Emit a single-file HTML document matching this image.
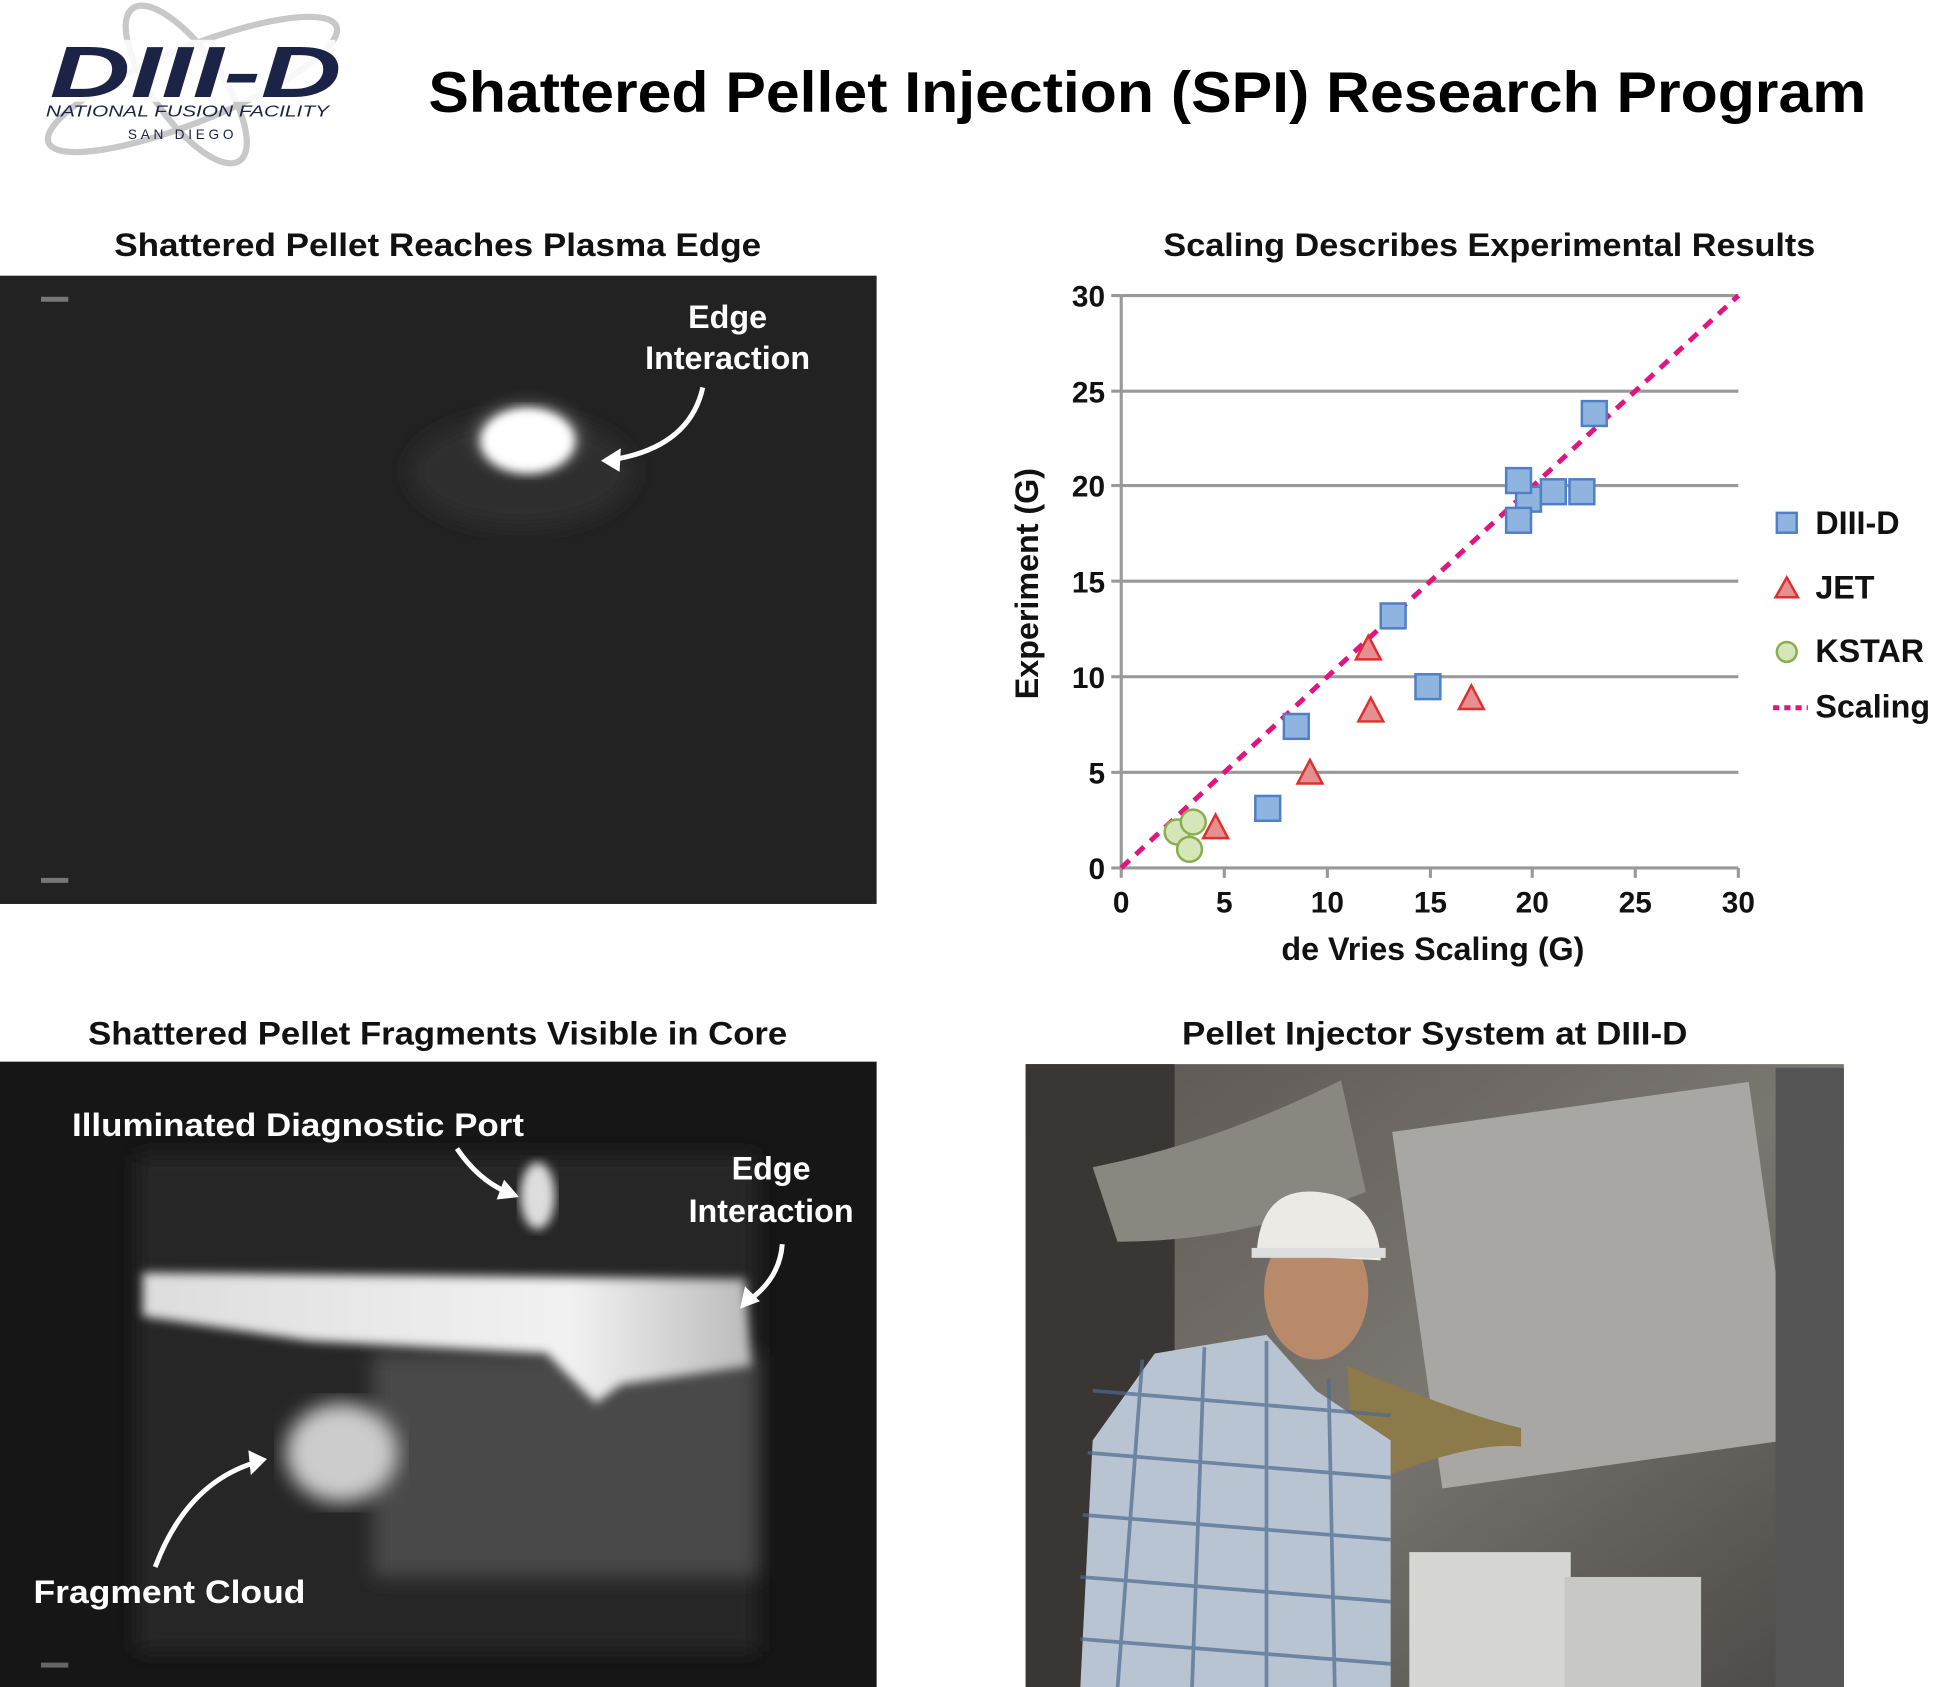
<!DOCTYPE html>
<html><head><meta charset="utf-8"><style>
html,body{margin:0;padding:0;background:#fff;}
svg{display:block;}
text{font-family:"Liberation Sans",sans-serif;font-weight:bold;}
</style></head><body>
<svg width="1937" height="1687" viewBox="0 0 1560 1358.6" xmlns="http://www.w3.org/2000/svg">
<defs>
<radialGradient id="glow1" cx="50%" cy="50%" r="50%">
<stop offset="0" stop-color="#fff"/><stop offset="0.35" stop-color="#f4f4f4"/><stop offset="0.6" stop-color="#777" stop-opacity="0.6"/><stop offset="1" stop-color="#222" stop-opacity="0"/>
</radialGradient>
<linearGradient id="band" x1="0" y1="0" x2="1" y2="0">
<stop offset="0" stop-color="#ddd"/><stop offset="0.7" stop-color="#f2f2f2"/><stop offset="1" stop-color="#bbb"/>
</linearGradient>
<filter id="blur"><feGaussianBlur stdDeviation="8"/></filter>
<filter id="blur2"><feGaussianBlur stdDeviation="4"/></filter>
<linearGradient id="photo" x1="0" y1="0" x2="1" y2="1">
<stop offset="0" stop-color="#5a5550"/><stop offset="0.5" stop-color="#7a7670"/><stop offset="1" stop-color="#4a4845"/>
</linearGradient>
</defs>

<!-- Logo -->
<ellipse cx="155" cy="68" rx="125" ry="30" fill="none" stroke="#c8c8c8" stroke-width="5" transform="rotate(-22 155 68)"/>
<ellipse cx="150" cy="68" rx="75" ry="28" fill="none" stroke="#c8c8c8" stroke-width="5" transform="rotate(55 150 68)"/>
<rect x="45" y="32" width="225" height="50" fill="#fff" opacity="0.85"/>
<text x="40" y="78" font-size="58" font-style="italic" fill="#1b2447" textLength="235" lengthAdjust="spacingAndGlyphs">DIII-D</text>
<text x="37" y="94" font-size="13" font-style="italic" fill="#1b2447" textLength="228" lengthAdjust="spacingAndGlyphs" style="font-weight:normal">NATIONAL FUSION FACILITY</text>
<text x="103" y="112" font-size="11" fill="#1b2447" letter-spacing="3" style="font-weight:normal">SAN DIEGO</text>

<!-- Title -->
<text x="345" y="90" font-size="46" fill="#000" textLength="1158" lengthAdjust="spacingAndGlyphs">Shattered Pellet Injection (SPI) Research Program</text>

<!-- Subtitles -->
<text x="92" y="206" font-size="26" fill="#111" textLength="521" lengthAdjust="spacingAndGlyphs">Shattered Pellet Reaches Plasma Edge</text>
<text x="937" y="206" font-size="26" fill="#111" textLength="525" lengthAdjust="spacingAndGlyphs">Scaling Describes Experimental Results</text>
<text x="71" y="841" font-size="26" fill="#111" textLength="563" lengthAdjust="spacingAndGlyphs">Shattered Pellet Fragments Visible in Core</text>
<text x="952" y="841" font-size="26" fill="#111" textLength="407" lengthAdjust="spacingAndGlyphs">Pellet Injector System at DIII-D</text>

<!-- Image 1 -->
<rect x="0" y="222" width="706" height="506" fill="#222"/>
<rect x="33" y="239" width="22" height="4" fill="#777"/>
<rect x="33" y="707" width="22" height="4" fill="#777"/>
<ellipse cx="420" cy="380" rx="90" ry="45" fill="#2f2f2f" filter="url(#blur)"/>
<ellipse cx="425" cy="353" rx="60" ry="42" fill="url(#glow1)"/>
<ellipse cx="425" cy="355" rx="38" ry="26" fill="#fff" filter="url(#blur2)"/>
<text x="586" y="264" font-size="26" fill="#fff" text-anchor="middle">Edge</text>
<text x="586" y="297" font-size="26" fill="#fff" text-anchor="middle">Interaction</text>
<path d="M566 312 Q555 362 488 371" stroke="#fff" stroke-width="4" fill="none"/>
<polygon points="484,371 500,361 499,380" fill="#fff"/>

<!-- Chart -->
<g stroke="#999" stroke-width="2.5">
<line x1="903" y1="238" x2="1400" y2="238"/>
<line x1="903" y1="315" x2="1400" y2="315"/>
<line x1="903" y1="391" x2="1400" y2="391"/>
<line x1="903" y1="468" x2="1400" y2="468"/>
<line x1="903" y1="545" x2="1400" y2="545"/>
<line x1="903" y1="622" x2="1400" y2="622"/>
<line x1="903" y1="699" x2="1400" y2="699"/>
<line x1="903" y1="238" x2="903" y2="707"/>
<line x1="895" y1="238" x2="903" y2="238"/><line x1="895" y1="315" x2="903" y2="315"/><line x1="895" y1="391" x2="903" y2="391"/><line x1="895" y1="468" x2="903" y2="468"/><line x1="895" y1="545" x2="903" y2="545"/><line x1="895" y1="622" x2="903" y2="622"/><line x1="895" y1="699" x2="903" y2="699"/>
<line x1="986" y1="699" x2="986" y2="707"/><line x1="1069" y1="699" x2="1069" y2="707"/><line x1="1152" y1="699" x2="1152" y2="707"/><line x1="1234" y1="699" x2="1234" y2="707"/><line x1="1317" y1="699" x2="1317" y2="707"/><line x1="1400" y1="699" x2="1400" y2="707"/>
</g>
<g font-size="24" fill="#111" text-anchor="end">
<text x="890" y="247">30</text><text x="890" y="324">25</text><text x="890" y="400">20</text><text x="890" y="477">15</text><text x="890" y="554">10</text><text x="890" y="631">5</text><text x="890" y="708">0</text>
</g>
<g font-size="24" fill="#111" text-anchor="middle">
<text x="903" y="735">0</text><text x="986" y="735">5</text><text x="1069" y="735">10</text><text x="1152" y="735">15</text><text x="1234" y="735">20</text><text x="1317" y="735">25</text><text x="1400" y="735">30</text>
<text x="1154" y="773" font-size="26">de Vries Scaling (G)</text>
<text transform="translate(836 470) rotate(-90)" font-size="26">Experiment (G)</text>
</g>
<line x1="903" y1="699" x2="1400" y2="238" stroke="#e0157f" stroke-width="4" stroke-dasharray="9,7"/>
<g fill="#90b4e0" stroke="#4f7fc4" stroke-width="2">
<rect x="1274" y="323" width="20" height="20"/>
<rect x="1221" y="392" width="20" height="20"/>
<rect x="1213" y="377" width="20" height="20"/>
<rect x="1241" y="386" width="20" height="20"/>
<rect x="1264" y="386" width="20" height="20"/>
<rect x="1213" y="409" width="20" height="20"/>
<rect x="1112" y="486" width="20" height="20"/>
<rect x="1140" y="543" width="20" height="20"/>
<rect x="1034" y="575" width="20" height="20"/>
<rect x="1011" y="641" width="20" height="20"/>
</g>
<g fill="#e59090" stroke="#e02f2f" stroke-width="2">
<polygon points="1102,512 1112,531 1092,531"/>
<polygon points="1104,562 1114,581 1094,581"/>
<polygon points="1185,552 1195,571 1175,571"/>
<polygon points="1055,612 1065,631 1045,631"/>
<polygon points="979,656 989,675 969,675"/>
</g>
<g fill="#d5e6b8" stroke="#8aad4f" stroke-width="2">
<circle cx="948" cy="670" r="10"/><circle cx="958" cy="684" r="10"/><circle cx="961" cy="662" r="10"/>
</g>
<rect x="1431" y="413" width="16" height="16" fill="#90b4e0" stroke="#4f7fc4" stroke-width="2"/>
<polygon points="1439,465 1448,481 1430,481" fill="#e59090" stroke="#e02f2f" stroke-width="2"/>
<circle cx="1439" cy="525" r="8" fill="#d5e6b8" stroke="#8aad4f" stroke-width="2"/>
<line x1="1428" y1="570" x2="1456" y2="570" stroke="#e0157f" stroke-width="4" stroke-dasharray="5,4"/>
<g font-size="26" fill="#111">
<text x="1462" y="430">DIII-D</text><text x="1462" y="482">JET</text><text x="1462" y="533">KSTAR</text><text x="1462" y="578">Scaling</text>
</g>

<!-- Image 3 -->
<rect x="0" y="855" width="706" height="507" fill="#161616"/>
<rect x="110" y="930" width="500" height="400" fill="#262626" filter="url(#blur)"/>
<rect x="300" y="1090" width="310" height="180" fill="#4a4a4a" filter="url(#blur)"/>
<path d="M115 1025 L600 1030 L605 1100 L500 1115 L480 1130 L440 1090 L250 1080 L115 1060 Z" fill="url(#band)" filter="url(#blur2)"/>
<ellipse cx="433" cy="963" rx="14" ry="27" fill="#ddd" filter="url(#blur2)"/>
<ellipse cx="275" cy="1170" rx="45" ry="40" fill="#ccc" filter="url(#blur)"/>
<rect x="33" y="1339" width="22" height="4" fill="#666"/>
<g font-size="26" fill="#fff">
<text x="58" y="915" textLength="364" lengthAdjust="spacingAndGlyphs">Illuminated Diagnostic Port</text>
<text x="621" y="950" text-anchor="middle">Edge</text>
<text x="621" y="984" text-anchor="middle">Interaction</text>
<text x="27" y="1291" textLength="219" lengthAdjust="spacingAndGlyphs">Fragment Cloud</text>
</g>
<path d="M368 925 Q385 950 408 960" stroke="#fff" stroke-width="4" fill="none"/>
<polygon points="418,964 400,966 406,950" fill="#fff"/>
<path d="M630 1002 Q628 1030 602 1048" stroke="#fff" stroke-width="4" fill="none"/>
<polygon points="596,1054 600,1036 612,1048" fill="#fff"/>
<path d="M125 1262 Q150 1195 205 1178" stroke="#fff" stroke-width="4" fill="none"/>
<polygon points="215,1175 200,1168 202,1188" fill="#fff"/>

<!-- Photo -->
<rect x="826" y="857" width="659" height="503" fill="url(#photo)"/>
<rect x="826" y="857" width="120" height="503" fill="#3a3633"/>
<path d="M880 940 Q980 920 1080 870 L1100 960 Q1000 1000 900 1000 Z" fill="#8a8680"/>
<rect x="1140" y="890" width="290" height="290" fill="#a8a7a3" transform="rotate(-8 1285 1035)"/>
<rect x="1430" y="860" width="55" height="500" fill="#555"/>
<rect x="1135" y="1250" width="130" height="110" fill="#d6d6d2"/>
<rect x="1260" y="1270" width="110" height="90" fill="#c8c8c4"/>
<path d="M1085 1100 Q1180 1140 1225 1150 L1225 1165 Q1180 1160 1090 1200 Z" fill="#8d7a4a"/>
<path d="M930 1090 L1020 1075 L1060 1120 L1120 1160 L1120 1360 L870 1360 L880 1160 Z" fill="#b9c4d2"/>
<g stroke="#4e6a90" stroke-width="3" opacity="0.7">
<line x1="880" y1="1120" x2="1120" y2="1140"/><line x1="876" y1="1170" x2="1120" y2="1190"/><line x1="872" y1="1220" x2="1120" y2="1240"/><line x1="870" y1="1270" x2="1120" y2="1290"/><line x1="870" y1="1320" x2="1120" y2="1340"/>
<line x1="920" y1="1095" x2="900" y2="1360"/><line x1="970" y1="1085" x2="960" y2="1360"/><line x1="1020" y1="1080" x2="1020" y2="1360"/><line x1="1070" y1="1110" x2="1075" y2="1360"/>
</g>
<ellipse cx="1060" cy="1040" rx="42" ry="55" fill="#b88a6a"/>
<path d="M1012 1010 Q1015 955 1062 960 Q1110 965 1112 1015 Z" fill="#eceae4"/>
<rect x="1008" y="1005" width="108" height="8" fill="#ddd"/>
</svg>
</body></html>
